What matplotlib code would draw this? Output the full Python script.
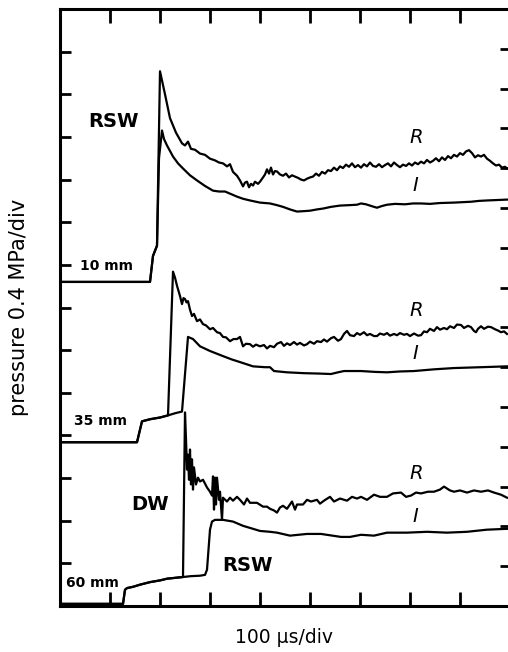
import numpy as np
import matplotlib
matplotlib.use("Agg")
from matplotlib import pyplot as plt

# time in microseconds, pressure in divisions of the left axis (0.4 MPa/div)

# ---- gauge at 10 mm ----
t_r10 = [0, 180, 186, 194, 200, 210, 220, 232, 244, 250, 256, 262, 270, 280, 290, 300, 310, 318, 326, 334,
         340, 346, 354, 360, 366, 370, 374, 378, 382, 386, 390, 396, 400, 406, 410, 414, 418, 422, 426, 430,
         434, 440, 446, 452, 458, 464, 470, 476, 482, 488, 494, 500, 506, 512, 518, 524, 530, 536, 542, 548,
         554, 560, 566, 572, 578, 584, 590, 596, 602, 608, 614, 620, 626, 632, 638, 644, 650, 656, 662, 668,
         674, 680, 686, 692, 698, 704, 710, 716, 722, 728, 734, 740, 746, 752, 758, 764, 770, 776, 782, 788,
         794, 800, 806, 812, 818, 824, 830, 836, 842, 848, 854, 860, 866, 872, 878, 884, 890, 894]
p_r10 = [7.60, 7.60, 8.21, 8.45, 12.54, 12.00, 11.44, 11.10, 10.85, 10.80, 10.89, 10.72, 10.70, 10.61, 10.58,
         10.49, 10.45, 10.40, 10.38, 10.31, 10.36, 10.18, 10.09, 9.98, 9.84, 9.93, 9.95, 9.82, 9.90, 9.86,
         9.95, 9.90, 9.95, 10.05, 10.12, 10.24, 10.14, 10.28, 10.12, 10.20, 10.19, 10.12, 10.09, 10.14, 10.05,
         10.10, 10.07, 10.04, 10.00, 9.98, 10.02, 10.05, 10.07, 10.14, 10.09, 10.18, 10.14, 10.22, 10.20, 10.28,
         10.22, 10.31, 10.27, 10.35, 10.30, 10.38, 10.29, 10.34, 10.28, 10.36, 10.31, 10.40, 10.32, 10.30, 10.36,
         10.29, 10.34, 10.38, 10.31, 10.40, 10.34, 10.29, 10.35, 10.32, 10.38, 10.33, 10.40, 10.36, 10.42, 10.38,
         10.46, 10.40, 10.44, 10.50, 10.43, 10.52, 10.46, 10.55, 10.50, 10.58, 10.54, 10.62, 10.58, 10.66, 10.69,
         10.62, 10.52, 10.57, 10.54, 10.58, 10.49, 10.44, 10.38, 10.33, 10.35, 10.28, 10.30, 10.26]
t_i10 = [0, 180, 186, 194, 198, 204, 208, 214, 226, 236, 246, 260, 274, 290, 306, 318, 330, 342, 354, 366,
         380, 400, 420, 434, 446, 460, 474, 488, 500, 514, 526, 542, 560, 578, 594, 602, 612, 620, 628, 634,
         644, 654, 670, 690, 706, 722, 740, 760, 788, 805, 822, 838, 854, 874, 894]
p_i10 = [7.60, 7.60, 8.21, 8.45, 10.50, 11.15, 10.95, 10.80, 10.54, 10.38, 10.26, 10.10, 9.98, 9.85, 9.74,
         9.72, 9.72, 9.66, 9.60, 9.55, 9.51, 9.46, 9.44, 9.40, 9.36, 9.30, 9.25, 9.26, 9.27, 9.30, 9.32, 9.36,
         9.39, 9.40, 9.41, 9.44, 9.42, 9.39, 9.36, 9.34, 9.38, 9.41, 9.43, 9.42, 9.44, 9.44, 9.43, 9.45, 9.46,
         9.47, 9.48, 9.50, 9.51, 9.52, 9.53]

# ---- gauge at 35 mm ----
t_r35 = [0, 154, 164, 180, 200, 216, 226, 230, 234, 240, 244, 247, 250, 253, 256, 260, 264, 268, 274, 280,
         286, 292, 300, 306, 314, 320, 326, 332, 340, 347, 354, 360, 366, 372, 380, 386, 392, 400, 408, 414,
         420, 428, 434, 442, 448, 454, 460, 468, 474, 480, 488, 494, 500, 508, 514, 522, 528, 534, 542, 548,
         556, 562, 568, 574, 580, 588, 594, 600, 608, 614, 620, 628, 634, 640, 648, 654, 660, 668, 674, 680,
         688, 694, 700, 708, 716, 722, 728, 734, 740, 748, 754, 760, 768, 774, 780, 788, 794, 802, 808, 816,
         822, 828, 832, 836, 842, 848, 856, 862, 870, 876, 882, 888, 894]
p_r35 = [3.84, 3.84, 4.33, 4.38, 4.42, 4.47, 7.84, 7.70, 7.51, 7.27, 7.08, 7.22, 7.20, 7.12, 7.15, 6.95, 6.80,
         6.85, 6.68, 6.72, 6.61, 6.58, 6.49, 6.52, 6.42, 6.40, 6.31, 6.30, 6.21, 6.26, 6.26, 6.31, 6.09, 6.15,
         6.14, 6.08, 6.13, 6.09, 6.12, 6.04, 6.10, 6.07, 6.15, 6.19, 6.10, 6.16, 6.12, 6.19, 6.13, 6.17, 6.11,
         6.14, 6.20, 6.15, 6.21, 6.19, 6.25, 6.20, 6.28, 6.31, 6.22, 6.26, 6.38, 6.45, 6.35, 6.33, 6.40, 6.36,
         6.42, 6.35, 6.38, 6.33, 6.33, 6.39, 6.36, 6.40, 6.34, 6.38, 6.35, 6.40, 6.36, 6.38, 6.33, 6.39, 6.34,
         6.35, 6.44, 6.42, 6.50, 6.45, 6.54, 6.48, 6.52, 6.49, 6.56, 6.52, 6.60, 6.59, 6.52, 6.57, 6.54, 6.45,
         6.42, 6.50, 6.56, 6.50, 6.55, 6.54, 6.49, 6.46, 6.42, 6.44, 6.38]
t_i35 = [0, 154, 164, 180, 200, 216, 230, 244, 256, 262, 266, 280, 300, 326, 344, 360, 386, 410, 420, 428,
         454, 488, 520, 542, 556, 568, 602, 630, 654, 680, 708, 748, 788, 842, 894]
p_i35 = [3.84, 3.84, 4.33, 4.38, 4.42, 4.47, 4.52, 4.56, 6.31, 6.28, 6.26, 6.09, 5.98, 5.86, 5.78, 5.72, 5.62,
         5.60, 5.60, 5.51, 5.48, 5.46, 5.45, 5.44, 5.48, 5.51, 5.51, 5.49, 5.48, 5.50, 5.51, 5.55, 5.58, 5.60,
         5.62]

# ---- gauge at 60 mm ----
t_r60 = [0, 126, 130, 134, 146, 160, 180, 200, 214, 230, 246, 250, 252, 254, 256, 258, 260, 262, 264, 266,
         268, 272, 276, 280, 286, 294, 300, 304, 306, 308, 310, 312, 314, 318, 320, 324, 326, 334, 340, 346,
         354, 360, 368, 374, 380, 388, 394, 406, 414, 420, 428, 434, 440, 446, 454, 464, 470, 474, 486, 494,
         502, 514, 520, 528, 540, 548, 560, 574, 584, 594, 602, 614, 628, 640, 654, 666, 682, 692, 702, 712,
         722, 736, 748, 760, 768, 780, 788, 800, 814, 828, 842, 856, 868, 882, 894]
p_r60 = [0.05, 0.05, 0.38, 0.42, 0.45, 0.50, 0.56, 0.60, 0.64, 0.66, 0.68, 4.54, 3.91, 3.20, 3.55, 2.96, 3.67,
         2.85, 3.44, 2.73, 3.25, 2.85, 3.01, 2.92, 2.96, 2.78, 2.68, 2.59, 3.04, 2.26, 3.01, 2.38, 3.01, 2.49,
         2.68, 2.02, 2.54, 2.45, 2.54, 2.47, 2.56, 2.49, 2.38, 2.52, 2.42, 2.42, 2.42, 2.33, 2.33, 2.28, 2.24,
         2.19, 2.31, 2.35, 2.28, 2.45, 2.26, 2.38, 2.38, 2.49, 2.45, 2.49, 2.40, 2.47, 2.56, 2.45, 2.52, 2.47,
         2.56, 2.52, 2.56, 2.49, 2.61, 2.56, 2.56, 2.64, 2.66, 2.56, 2.59, 2.66, 2.64, 2.68, 2.68, 2.73, 2.80,
         2.71, 2.68, 2.71, 2.66, 2.71, 2.68, 2.71, 2.66, 2.61, 2.54]
t_i60 = [0, 126, 130, 134, 146, 160, 180, 200, 214, 230, 246, 262, 280, 290, 294, 300, 304, 310, 326, 346,
         366, 386, 400, 420, 434, 460, 494, 522, 562, 580, 602, 628, 654, 694, 734, 774, 814, 854, 894]
p_i60 = [0.05, 0.05, 0.38, 0.42, 0.45, 0.50, 0.56, 0.60, 0.64, 0.66, 0.68, 0.70, 0.71, 0.73, 0.85, 1.79, 1.98,
         2.02, 2.02, 1.98, 1.88, 1.81, 1.76, 1.74, 1.72, 1.65, 1.69, 1.69, 1.62, 1.62, 1.67, 1.65, 1.72, 1.72,
         1.74, 1.72, 1.74, 1.79, 1.81]

traces = [(t_r10, p_r10), (t_i10, p_i10), (t_r35, p_r35), (t_i35, p_i35), (t_r60, p_r60), (t_i60, p_i60)]

plt.rcParams['font.family'] = ['DejaVu Sans']

fig = plt.figure(figsize=(5.08, 6.52), dpi=100)
ax = fig.add_axes([60 / 508, 46 / 652, 448 / 508, 597 / 652])

for t, p in traces:
    ax.plot(t, p, color='black', lw=1.6, solid_joinstyle='round')

ax.set_xlim(0, 896)
ax.set_ylim(0, 14)
ax.set_xticks(np.arange(0, 900, 100))
ax.set_yticks(np.arange(0, 15, 1))
ax.tick_params(axis='both', which='both', direction='in', length=8, width=2,
               labelleft=False, labelbottom=False, top=True, right=False)
ax.tick_params(axis='x', length=10)
for side in ['left', 'top', 'bottom']:
    ax.spines[side].set_linewidth(2.2)
ax.spines['right'].set_visible(False)

# right hand scale has its own ticks
ax2 = ax.twinx()
ax2.set_ylim(0, 15)
ax2.set_yticks(np.arange(0, 16, 1))
ax2.tick_params(axis='y', direction='in', length=6, width=2, labelright=False)
for side in ['left', 'top', 'bottom', 'right']:
    ax2.spines[side].set_visible(False)

ax.set_xlabel('100 \u03bcs/div', fontsize=13.5, labelpad=16)
ax.set_ylabel('pressure 0.4 MPa/div', fontsize=15, labelpad=22)

big = dict(fontsize=14, fontweight='bold', ha='center', va='center')
small = dict(fontsize=10, fontweight='bold', ha='center', va='center')
ital = dict(fontsize=14, style='italic', ha='center', va='center')

ax.text(106, 11.36, 'RSW', **big)
ax.text(94, 7.98, '10 mm', **small)
ax.text(80, 4.33, '35 mm', **small)
ax.text(64, 0.54, '60 mm', **small)
ax.text(180, 2.38, 'DW', **big)
ax.text(376, 0.96, 'RSW', **big)
for rp, ip in [(10.99, 9.86), (6.94, 5.91), (3.11, 2.09)]:
    ax.text(712, rp, 'R', **ital)
    ax.text(710, ip, 'I', **ital)

fig.savefig('out.png', dpi=100)
